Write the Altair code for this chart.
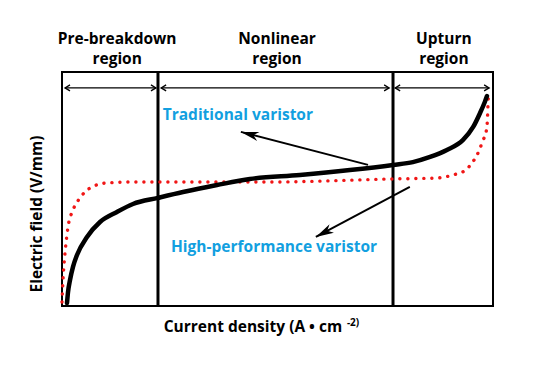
import math
import altair as alt
import pandas as pd

# ---- data (arbitrary units: current density 0-100, electric field 0-100) ----
black_x = [1.16, 1.4, 1.86, 2.55, 3.48, 5.80, 8.82, 12.76, 16.47, 22.27, 28.07, 35.96,
           43.6, 55.2, 66.8, 76.8, 81.4, 85.4, 89.3, 93.0, 95.4, 97.0, 98.1, 98.6]
black_y = [1.28, 6.0, 11.1, 16.7, 21.8, 29.5, 35.9, 40.2, 43.6, 46.2, 48.7, 51.7,
           54.3, 56.0, 58.1, 60.3, 61.5, 63.7, 66.7, 70.9, 76.5, 82.5, 87.2, 89.7]

red_x = [0.0, 0.23, 0.7, 1.4, 2.55, 4.18, 6.5, 10.4, 16.5, 30.0, 48.3, 76.8, 87.0,
         90.7, 93.7, 95.1, 96.3, 97.0, 97.7, 98.4, 98.7, 98.85, 98.95]
red_y = [1.7, 11.1, 22.6, 33.8, 41.0, 46.2, 50.4, 52.6, 53.0, 53.0, 53.0, 54.3, 54.7,
         56.0, 58.1, 61.1, 64.5, 67.5, 70.9, 74.4, 79.5, 86.8, 91.0]

dividers = [22.27, 76.8]

span_start = [0.7, 23.0, 77.3]
span_end = [21.8, 75.9, 99.1]
span_y = 93.2

region_titles = ["Pre-breakdown\nregion", "Nonlinear\nregion", "Upturn\nregion"]
region_center = [12.8, 49.9, 88.6]

labels = ["Traditional varistor", "High-performance varistor"]
label_x = [40.8, 49.2]
label_y = [81.6, 25.2]

arrow_tail_x = [71.0, 80.7]
arrow_tail_y = [60.3, 50.9]
arrow_tip_x = [41.5, 58.9]
arrow_tip_y = [74.4, 29.5]

x_title = "Current density (A \u2022 cm"
x_title_sup = "-2)"
y_title = "Electric field (V/mm)"

# ---- layout ----
W, H = 431, 234
PX_PER_X = W / 100.0
PX_PER_Y = H / 100.0
FONT = "Open Sans"
FS = 15.5
BLUE = "#129fe0"
RED = "#f01616"

xs = alt.Scale(domain=[0, 100], nice=False, zero=False)
ys = alt.Scale(domain=[0, 100], nice=False, zero=False)
X = lambda f: alt.X(f, type="quantitative", scale=xs, axis=None)
Y = lambda f: alt.Y(f, type="quantitative", scale=ys, axis=None)

df_black = pd.DataFrame({"x": black_x, "y": black_y, "o": range(len(black_x))})
df_red = pd.DataFrame({"x": red_x, "y": red_y, "o": range(len(red_x))})

black = alt.Chart(df_black).mark_line(color="black", strokeWidth=4.5, interpolate="monotone",
                                      strokeCap="round").encode(
    x=X("x"), y=Y("y"), order="o:Q")
red = alt.Chart(df_red).mark_line(color=RED, strokeWidth=3.4, interpolate="monotone",
                                  strokeDash=[0.1, 7.9], strokeCap="round").encode(
    x=X("x"), y=Y("y"), order="o:Q")

df_div = pd.DataFrame({"x": dividers, "y0": [0] * len(dividers), "y1": [100] * len(dividers)})
div = alt.Chart(df_div).mark_rule(color="black", strokeWidth=3).encode(
    x=X("x"), y=Y("y0"), y2="y1")

df_span = pd.DataFrame({"x1": span_start, "x2": span_end, "y": [span_y] * 3})
span_rule = alt.Chart(df_span).mark_rule(color="black", strokeWidth=1.3).encode(
    x=X("x1"), x2="x2", y=Y("y"))
head_left = alt.Chart(df_span).mark_point(shape="M 1 -0.6 L 0 0 L 1 0.6", filled=False, size=100,
                                          color="black", strokeWidth=1.3, opacity=1).encode(
    x=X("x1"), y=Y("y"))
head_right = alt.Chart(df_span).mark_point(shape="M -1 -0.6 L 0 0 L -1 0.6", filled=False, size=100,
                                           color="black", strokeWidth=1.3, opacity=1).encode(
    x=X("x2"), y=Y("y"))

df_arr = pd.DataFrame({"tx": arrow_tail_x, "ty": arrow_tail_y, "hx": arrow_tip_x, "hy": arrow_tip_y})
df_arr["ang"] = [
    (math.degrees(math.atan2(-(hy - ty) * PX_PER_Y, (hx - tx) * PX_PER_X)) + 360) % 360
    for tx, ty, hx, hy in zip(arrow_tail_x, arrow_tail_y, arrow_tip_x, arrow_tip_y)
]
arr_rule = alt.Chart(df_arr).mark_rule(color="black", strokeWidth=2).encode(
    x=X("tx"), y=Y("ty"), x2="hx", y2="hy")
arr_head = alt.Chart(df_arr).mark_point(shape="M 0 0 L -1 -0.26 L -0.72 0 L -1 0.26 Z", filled=True,
                                        size=1296, color="black", opacity=1).encode(
    x=X("hx"), y=Y("hy"), angle=alt.Angle("ang:Q", scale=None))

df_reg = pd.DataFrame({"x": region_center, "y": [112.0] * 3, "t": region_titles})
reg_text = alt.Chart(df_reg).mark_text(font=FONT, fontWeight="bold", fontSize=FS, color="black",
                                       align="center", baseline="alphabetic",
                                       lineBreak="\n", lineHeight=20).encode(
    x=X("x"), y=Y("y"), text="t:N")

df_lab = pd.DataFrame({"x": label_x, "y": label_y, "t": labels})
lab_text = alt.Chart(df_lab).mark_text(font=FONT, fontWeight="bold", fontSize=FS, color=BLUE,
                                       align="center", baseline="middle").encode(
    x=X("x"), y=Y("y"), text="t:N")

df_xt = pd.DataFrame({"x": [65.0], "y": [-11.1], "t": [x_title]})
xt = alt.Chart(df_xt).mark_text(font=FONT, fontWeight="bold", fontSize=FS, color="black",
                                align="right", baseline="alphabetic").encode(
    x=X("x"), y=Y("y"), text="t:N")
df_xs = pd.DataFrame({"x": [66.1], "y": [-8.5], "t": [x_title_sup]})
xsup = alt.Chart(df_xs).mark_text(font=FONT, fontWeight="bold", fontSize=10, color="black",
                                  align="left", baseline="alphabetic").encode(
    x=X("x"), y=Y("y"), text="t:N")
df_yt = pd.DataFrame({"x": [-5.8], "y": [39.3], "t": [y_title]})
yt = alt.Chart(df_yt).mark_text(font=FONT, fontWeight="bold", fontSize=FS, color="black",
                                align="center", baseline="middle", angle=270).encode(
    x=X("x"), y=Y("y"), text="t:N")

chart = alt.layer(
    div, red, black, span_rule, head_left, head_right, arr_rule, arr_head,
    reg_text, lab_text, xt, xsup, yt
).properties(
    width=W, height=H,
    autosize=alt.AutoSizeParams(type="none"),
    padding={"left": 54, "top": 64, "right": 37, "bottom": 66},
    background="white",
).configure_view(stroke="black", strokeWidth=2)

chart.save("out.html", embed_options={"renderer": "svg", "actions": False})
